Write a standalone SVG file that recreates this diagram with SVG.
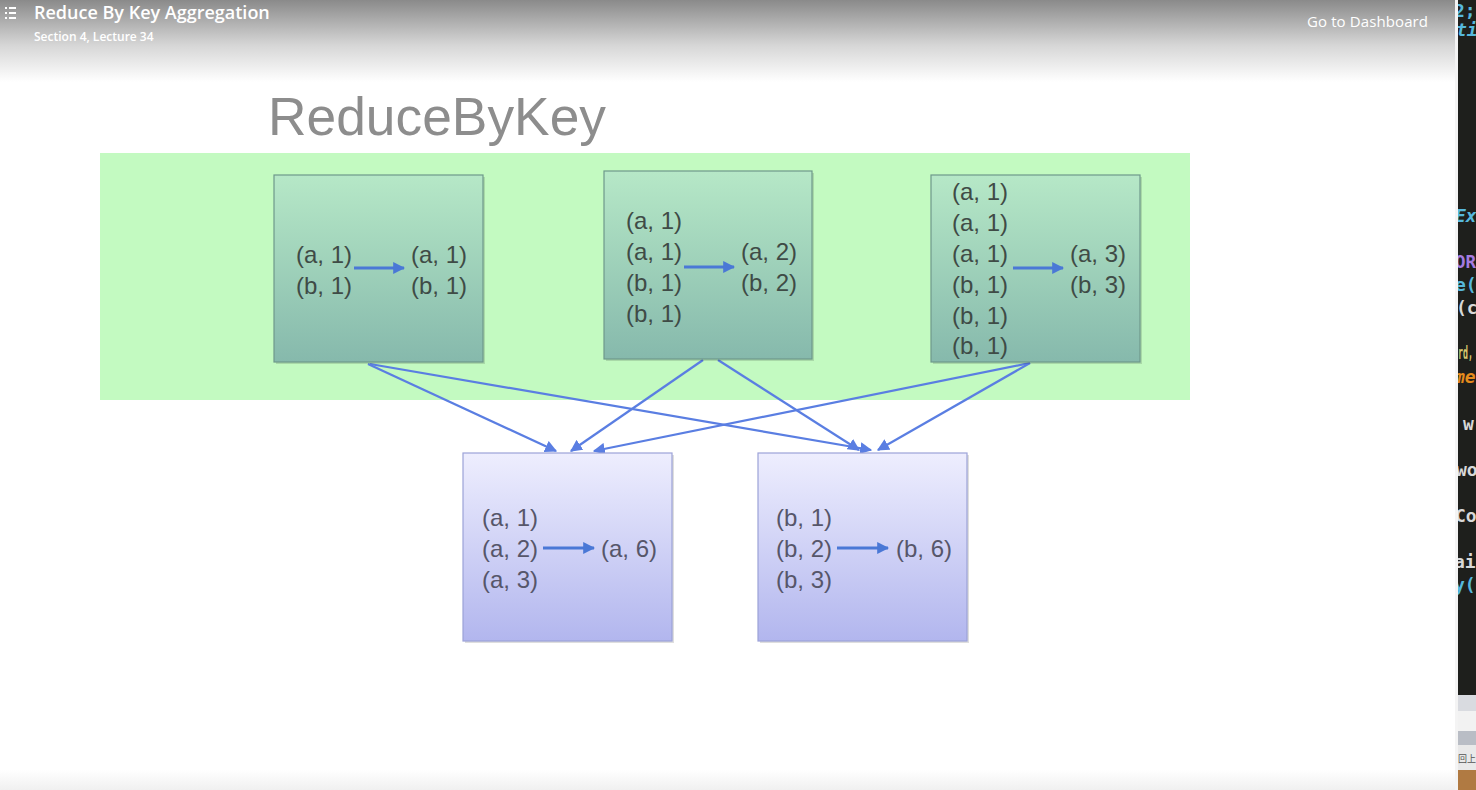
<svg xmlns="http://www.w3.org/2000/svg" width="1476" height="790" viewBox="0 0 1476 790">
<defs>
<linearGradient id="hdr" x1="0" y1="0" x2="0" y2="1">
<stop offset="0" stop-color="#8a8a8a"/>
<stop offset="0.55" stop-color="#d6d6d6"/>
<stop offset="1" stop-color="#ffffff"/>
</linearGradient>
<linearGradient id="gbox" x1="0" y1="0" x2="0" y2="1">
<stop offset="0" stop-color="#b6e8c7"/>
<stop offset="1" stop-color="#86b9ac"/>
</linearGradient>
<linearGradient id="bbox" x1="0" y1="0" x2="0" y2="1">
<stop offset="0" stop-color="#eeeefe"/>
<stop offset="1" stop-color="#b2b6ee"/>
</linearGradient>
<linearGradient id="foot" x1="0" y1="0" x2="0" y2="1">
<stop offset="0" stop-color="#ffffff"/>
<stop offset="1" stop-color="#f0f0f0"/>
</linearGradient>
<marker id="ah" viewBox="0 0 10 10" refX="9" refY="5" markerWidth="5.5" markerHeight="5.5" markerUnits="strokeWidth" orient="auto">
<path d="M0,0 L10,5 L0,10 z" fill="#5a7ee2"/>
</marker>
<marker id="ih" viewBox="0 0 10 10" refX="9" refY="5" markerWidth="4" markerHeight="4" markerUnits="strokeWidth" orient="auto">
<path d="M0,0 L10,5 L0,10 z" fill="#4a78d6"/>
</marker>
<clipPath id="strip"><rect x="1458" y="0" width="18" height="695"/></clipPath>
</defs>
<style>
.t{font-family:"Liberation Sans",Arial,sans-serif;font-size:24px;}
.tg{fill:#3f4b46;}
.tb{fill:#56566a;}
.gb{fill:url(#gbox);stroke:#6e988b;stroke-width:1.2;}
.bb{fill:url(#bbox);stroke:#9ca2d8;stroke-width:1.2;}
.sh{fill:#000;opacity:0.13;}
.conn{stroke:#5a7ee2;stroke-width:2.2;fill:none;marker-end:url(#ah);}
.inner{stroke:#4a78d6;stroke-width:3;fill:none;marker-end:url(#ih);}
.code{font-family:"DejaVu Sans Mono","Liberation Mono",monospace;font-size:18px;}
.hd{font-family:"Open Sans","Noto Sans",sans-serif;fill:#ffffff;}
</style>

<rect x="0" y="0" width="1476" height="790" fill="#ffffff"/>
<rect x="0" y="0" width="1458" height="82" fill="url(#hdr)"/>
<rect x="0" y="770" width="1458" height="20" fill="url(#foot)"/>

<g id="header">
<g fill="#ffffff">
<rect x="5" y="7" width="2" height="2"/><rect x="9" y="7" width="7" height="2"/>
<rect x="5" y="12" width="2" height="2"/><rect x="9" y="12" width="7" height="2"/>
<rect x="5" y="17" width="2" height="2"/><rect x="9" y="17" width="7" height="2"/>
</g>
<text class="hd" x="34" y="19" font-size="18" font-weight="600">Reduce By Key Aggregation</text>
<text class="hd" x="34" y="41" font-size="12" font-weight="600">Section 4, Lecture 34</text>
<text class="hd" x="1307" y="27" font-size="15" textLength="121" lengthAdjust="spacing">Go to Dashboard</text>
</g>

<g id="editor-strip">
<rect x="1458" y="0" width="18" height="695" fill="#1e1f1c"/>
<rect x="1455" y="0" width="3" height="790" fill="#f4f4f4"/>
<rect x="1458" y="695" width="18" height="16" fill="#d9dbe0"/>
<rect x="1458" y="711" width="18" height="20" fill="#f2f2f2"/>
<rect x="1458" y="731" width="18" height="14" fill="#b9bdc5"/>
<rect x="1458" y="745" width="18" height="25" fill="#e9e9e9"/>
<rect x="1458" y="770" width="18" height="20" fill="#b07a42"/>
<g clip-path="url(#strip)" class="code" font-weight="bold">
<text x="1454" y="17" fill="#56b8dc">2;</text>
<text x="1456" y="36" fill="#56b8dc" font-style="italic">ti</text>
<text x="1455" y="222" fill="#56b8dc" font-style="italic">Ex</text>
<text x="1455" y="268" fill="#a57be0" textLength="21" lengthAdjust="spacingAndGlyphs">OR</text>
<text x="1455" y="291" fill="#56b8dc">e(</text>
<text x="1456" y="314" fill="#d8d8d8">(c</text>
<text x="1458" y="359" fill="#d8c86e" textLength="15" lengthAdjust="spacingAndGlyphs">rd,</text>
<text x="1454" y="383" fill="#e58b1c" font-style="italic">me</text>
<text x="1463" y="430" fill="#d8d8d8">w</text>
<text x="1456" y="476" fill="#d8d8d8">wo</text>
<text x="1455" y="522" fill="#d8d8d8">Co</text>
<text x="1454" y="568" fill="#d8d8d8">ai</text>
<text x="1454" y="591" fill="#56b8dc">y(</text>
</g>
<text x="1458" y="762" font-family="'Noto Sans CJK SC',sans-serif" font-size="9" fill="#555555">回上</text>
</g>

<text x="268" y="135" font-family="'Liberation Sans',Arial,sans-serif" font-size="54" fill="#8d8d8d" textLength="338" lengthAdjust="spacingAndGlyphs">ReduceByKey</text>

<rect x="100" y="153" width="1090" height="247" fill="#c3fac1"/>

<g id="connectors">
<line class="conn" x1="368" y1="364" x2="556" y2="451"/>
<line class="conn" x1="370" y1="364" x2="871" y2="450"/>
<line class="conn" x1="703" y1="360" x2="571" y2="451"/>
<line class="conn" x1="718" y1="360" x2="859" y2="450"/>
<line class="conn" x1="1030" y1="363" x2="594" y2="451"/>
<line class="conn" x1="1030" y1="363" x2="878" y2="450"/>
</g>

<g id="partition1">
<rect class="sh" x="276" y="177" width="209" height="187"/>
<rect class="gb" x="274" y="175" width="209" height="187"/>
<text class="t tg" x="296" y="263">(a, 1)</text>
<text class="t tg" x="296" y="294">(b, 1)</text>
<text class="t tg" x="411" y="263">(a, 1)</text>
<text class="t tg" x="411" y="294">(b, 1)</text>
<line class="inner" x1="354" y1="268" x2="404" y2="268"/>
</g>

<g id="partition2">
<rect class="sh" x="606" y="173" width="208" height="188"/>
<rect class="gb" x="604" y="171" width="208" height="188"/>
<text class="t tg" x="626" y="229">(a, 1)</text>
<text class="t tg" x="626" y="260">(a, 1)</text>
<text class="t tg" x="626" y="291">(b, 1)</text>
<text class="t tg" x="626" y="322">(b, 1)</text>
<text class="t tg" x="741" y="260">(a, 2)</text>
<text class="t tg" x="741" y="291">(b, 2)</text>
<line class="inner" x1="684" y1="267" x2="734" y2="267"/>
</g>

<g id="partition3">
<rect class="sh" x="933" y="177" width="209" height="187"/>
<rect class="gb" x="931" y="175" width="209" height="187"/>
<text class="t tg" x="952" y="200">(a, 1)</text>
<text class="t tg" x="952" y="231">(a, 1)</text>
<text class="t tg" x="952" y="262">(a, 1)</text>
<text class="t tg" x="952" y="293">(b, 1)</text>
<text class="t tg" x="952" y="324">(b, 1)</text>
<text class="t tg" x="952" y="354">(b, 1)</text>
<text class="t tg" x="1070" y="262">(a, 3)</text>
<text class="t tg" x="1070" y="293">(b, 3)</text>
<line class="inner" x1="1013" y1="268" x2="1063" y2="268"/>
</g>

<g id="reduceA">
<rect class="sh" x="465" y="455" width="209" height="188"/>
<rect class="bb" x="463" y="453" width="209" height="188"/>
<text class="t tb" x="482" y="526">(a, 1)</text>
<text class="t tb" x="482" y="557">(a, 2)</text>
<text class="t tb" x="482" y="588">(a, 3)</text>
<text class="t tb" x="601" y="557">(a, 6)</text>
<line class="inner" x1="543" y1="548" x2="594" y2="548"/>
</g>

<g id="reduceB">
<rect class="sh" x="760" y="455" width="209" height="188"/>
<rect class="bb" x="758" y="453" width="209" height="188"/>
<text class="t tb" x="776" y="526">(b, 1)</text>
<text class="t tb" x="776" y="557">(b, 2)</text>
<text class="t tb" x="776" y="588">(b, 3)</text>
<text class="t tb" x="896" y="557">(b, 6)</text>
<line class="inner" x1="837" y1="548" x2="888" y2="548"/>
</g>
</svg>
